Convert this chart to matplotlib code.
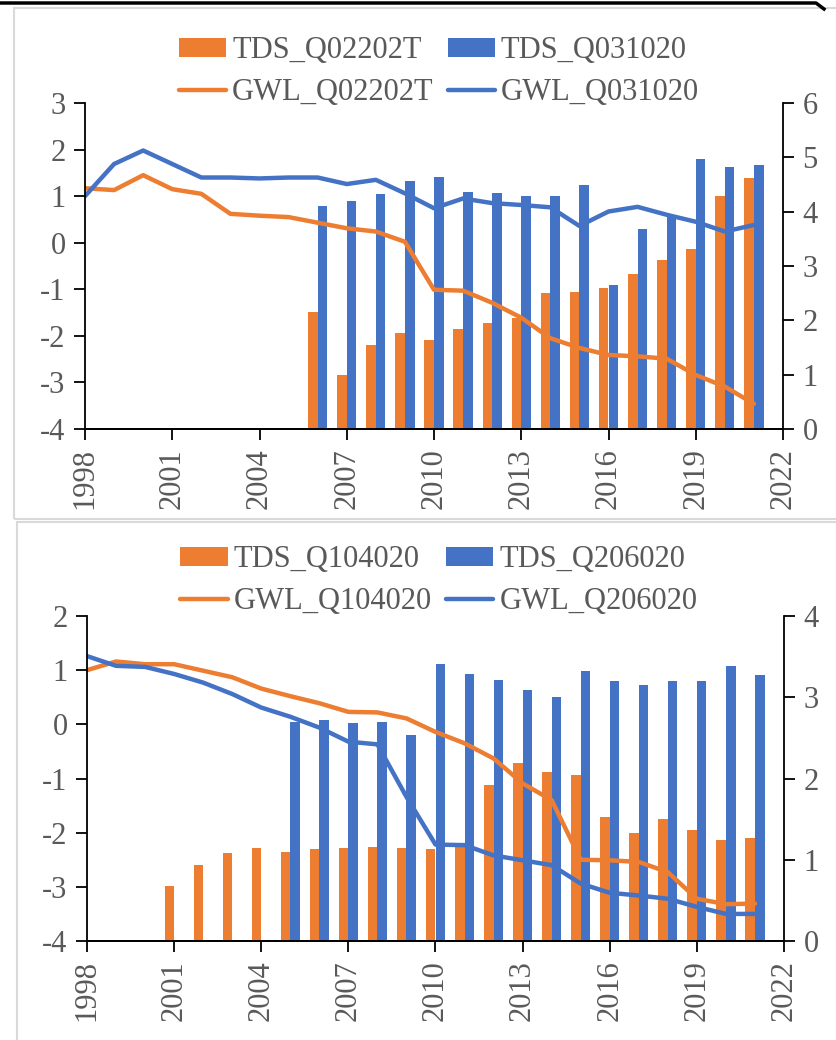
import numpy as np
import matplotlib.pyplot as plt
from matplotlib.lines import Line2D
from matplotlib.patches import Rectangle

years = np.arange(1998, 2022)

# top panel
gwl_q02202t = [1.17, 1.13, 1.45, 1.15, 1.05, 0.62, 0.58, 0.55, 0.43, 0.31, 0.24, 0.02,
               -1.01, -1.03, -1.29, -1.61, -2.05, -2.26, -2.41, -2.44, -2.49, -2.84, -3.09, -3.46]
gwl_q031020 = [1.00, 1.69, 1.98, 1.69, 1.40, 1.40, 1.38, 1.40, 1.40, 1.26, 1.35, 1.06,
               0.74, 0.95, 0.85, 0.81, 0.76, 0.36, 0.67, 0.77, 0.60, 0.45, 0.24, 0.38]
tds_years_top = np.arange(2006, 2022)
tds_q02202t = [2.16, 0.99, 1.55, 1.76, 1.64, 1.84, 1.96, 2.05, 2.50, 2.52, 2.60, 2.85,
               3.11, 3.31, 4.29, 4.62]
tds_q031020 = [4.11, 4.19, 4.33, 4.56, 4.64, 4.36, 4.34, 4.29, 4.28, 4.49, 2.65, 3.68,
               3.90, 4.97, 4.82, 4.86]

# bottom panel
gwl_q104020 = [1.00, 1.16, 1.11, 1.11, 0.99, 0.87, 0.66, 0.52, 0.39, 0.23, 0.22, 0.11,
               -0.14, -0.35, -0.63, -1.09, -1.40, -2.50, -2.51, -2.54, -2.73, -3.22, -3.32, -3.31]
gwl_q206020 = [1.26, 1.08, 1.06, 0.93, 0.77, 0.56, 0.31, 0.14, -0.06, -0.32, -0.37, -1.34,
               -2.22, -2.23, -2.42, -2.51, -2.60, -2.94, -3.11, -3.16, -3.22, -3.37, -3.50, -3.50]
tds_years_q104020 = np.arange(2001, 2022)
tds_q104020 = [0.68, 0.93, 1.08, 1.14, 1.10, 1.13, 1.14, 1.16, 1.14, 1.13, 1.16, 1.92,
               2.19, 2.08, 2.04, 1.53, 1.33, 1.50, 1.37, 1.24, 1.27]
tds_years_q206020 = np.arange(2005, 2022)
tds_q206020 = [2.69, 2.72, 2.68, 2.70, 2.53, 3.41, 3.29, 3.21, 3.09, 3.00, 3.32, 3.20,
               3.15, 3.20, 3.20, 3.38, 3.27]

xticks = np.arange(1998, 2023, 3)

ORANGE = '#ED7D31'
BLUE = '#4472C4'
GREY = '#595959'
FS = 22

plt.rcParams['font.family'] = ['Liberation Serif', 'DejaVu Serif']
plt.rcParams['axes.unicode_minus'] = False


def draw_panel(fig, rect, gwl_a, gwl_b, tds_x_a, tds_a, tds_x_b, tds_b,
               names, left_lim, right_lim, legend_y):
  ax = fig.add_axes(rect)
  ax2 = ax.twinx()
  # lines (left axis) on top of the bars (right axis)
  ax.set_zorder(ax2.get_zorder() + 1)
  ax.patch.set_visible(False)

  w = 0.33
  b1 = ax2.bar(np.asarray(tds_x_a) - w / 2, tds_a, width=w, color=ORANGE, label='TDS_' + names[0])
  b2 = ax2.bar(np.asarray(tds_x_b) + w / 2, tds_b, width=w, color=BLUE, label='TDS_' + names[1])
  l1, = ax.plot(years, gwl_a, color=ORANGE, lw=3.2, solid_capstyle='round', label='GWL_' + names[0])
  l2, = ax.plot(years, gwl_b, color=BLUE, lw=3.2, solid_capstyle='round', label='GWL_' + names[1])

  ax.set_xlim(1998, 2022)
  ax.set_ylim(*left_lim)
  ax2.set_ylim(*right_lim)
  ax.set_xticks(xticks)
  ax.set_xticklabels([str(t) for t in xticks], rotation=90)
  ax.set_yticks(np.arange(left_lim[0], left_lim[1] + 1))
  ax2.set_yticks(np.arange(right_lim[0], right_lim[1] + 1))

  for a in (ax, ax2):
    a.spines['top'].set_visible(False)
    for s in ('left', 'right', 'bottom'):
      a.spines[s].set_linewidth(1.3)
    a.tick_params(width=1.3, length=8, labelsize=FS, labelcolor=GREY, pad=6)
  ax.spines['right'].set_visible(False)
  ax2.spines['left'].set_visible(False)

  fig.legend([b1, l1, b2, l2], [b1.get_label(), l1.get_label(), b2.get_label(), l2.get_label()],
             ncol=2, loc='upper center', bbox_to_anchor=(0.525, legend_y), frameon=False,
             fontsize=FS, labelcolor=GREY, handlelength=1.55, handleheight=0.55,
             handletextpad=0.2, columnspacing=0.45, labelspacing=0.42, borderpad=0)
  return ax


fig = plt.figure(figsize=(8.36, 10.4), dpi=100)

# chart area frames
fig.add_artist(Rectangle((14 / 836, 1 - 519 / 1040), 1.0, 511 / 1040, transform=fig.transFigure,
                         fill=False, edgecolor='#d9d9d9', lw=1.5))
fig.add_artist(Rectangle((17 / 836, -0.01), 1.0, 1 - 522 / 1040 + 0.01, transform=fig.transFigure,
                         fill=False, edgecolor='#d9d9d9', lw=1.5))
# cut-off border from the figure above
fig.add_artist(Line2D([0, 816 / 836, 824 / 836], [1 - 3 / 1040, 1 - 3 / 1040, 1 - 9 / 1040],
                      transform=fig.transFigure, color='black', lw=2.5))

draw_panel(fig, [85 / 836, 1 - 429 / 1040, 698 / 836, 326 / 1040],
           gwl_q02202t, gwl_q031020, tds_years_top, tds_q02202t, tds_years_top, tds_q031020,
           ['Q02202T', 'Q031020'], (-4, 3), (0, 6), 1 - 21 / 1040)

draw_panel(fig, [87 / 836, 1 - 941 / 1040, 697 / 836, 325 / 1040],
           gwl_q104020, gwl_q206020, tds_years_q104020, tds_q104020, tds_years_q206020, tds_q206020,
           ['Q104020', 'Q206020'], (-4, 2), (0, 4), 1 - 530 / 1040)

fig.savefig('out.png', dpi=100)
